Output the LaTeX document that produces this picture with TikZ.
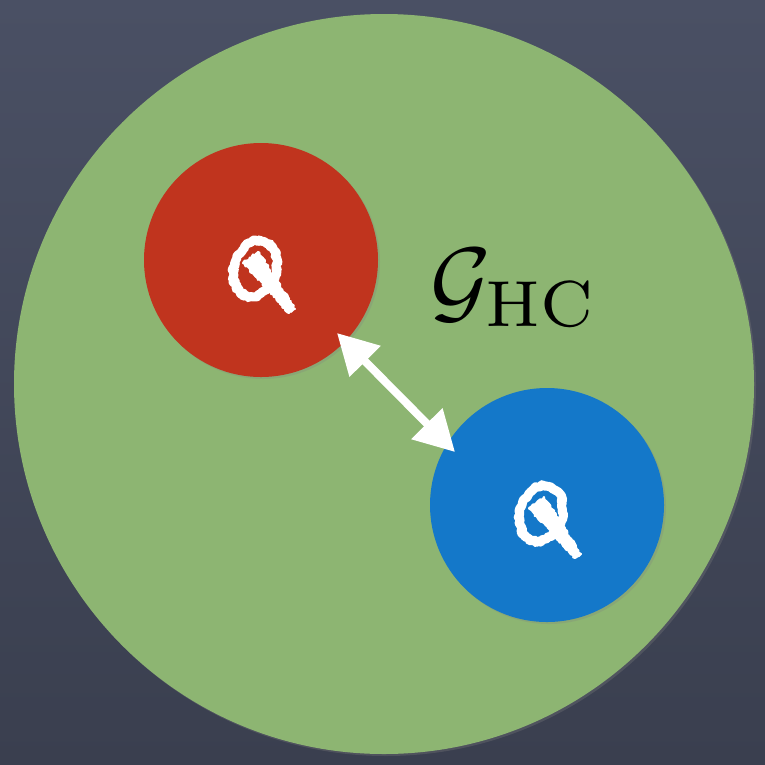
\documentclass[tikz,border=0pt]{standalone}
\usetikzlibrary{arrows.meta,decorations.pathmorphing,shadows}
\definecolor{bgtop}{HTML}{4A5064}
\definecolor{bgbot}{HTML}{3A3F4F}
\definecolor{pond}{HTML}{8DB572}
\definecolor{hotred}{HTML}{C0341E}
\definecolor{coldblue}{HTML}{1478C9}
\tikzset{
  disc/.style={circle, inner sep=0pt, minimum size=234pt, draw=none},
  chalk/.style={white, line width=9pt, line cap=round, line join=round,
    decorate, decoration={random steps, segment length=2pt, amplitude=1.3pt}},
  chalkfill/.style={fill=white, draw=white, line width=2pt, line join=round,
    decorate, decoration={random steps, segment length=2pt, amplitude=1.3pt}},
  chalkarrow/.style={white, line width=8pt,
    {Triangle[length=40pt,width=42pt]}-{Triangle[length=40pt,width=42pt]}},
  pics/chalkQ/.style={code={
    \draw[chalk, rotate=-18] (-3,10) ellipse [x radius=21, y radius=28.5];
    \filldraw[chalkfill] (-18,3) -- (-3,-8) -- (34,49) -- (28,53) -- cycle;
  }}
}
\begin{document}
\begin{tikzpicture}[x=1pt, y=-1pt]
  \useasboundingbox (0,0) rectangle (765,764);
  \shade[top color=bgtop, bottom color=bgbot] (0,0) rectangle (765,764);
  \node[disc, minimum size=740pt, fill=pond, drop shadow={opacity=0.3, shadow xshift=2pt, shadow yshift=-2pt}] (world) at (384,384) {};
  \node[disc, fill=hotred, drop shadow={opacity=0.25, shadow xshift=2pt, shadow yshift=-2pt}] (hot) at (261,260) {};
  \node[disc, fill=coldblue, drop shadow={opacity=0.25, shadow xshift=2pt, shadow yshift=-2pt}] (cold) at (547,505) {};
  \pic at (hot.center) {chalkQ};
  \pic at (cold.center) {chalkQ};
  \coordinate (tipA) at (337,333);
  \coordinate (tipB) at (455,452);
  \draw[chalkarrow] (tipA) -- (tipB);
  \node[inner sep=0pt] (label) at (514,288) {\scalebox{9.3}{$\mathcal{G}_{\mathrm{HC}}$}};
\end{tikzpicture}
\end{document}
